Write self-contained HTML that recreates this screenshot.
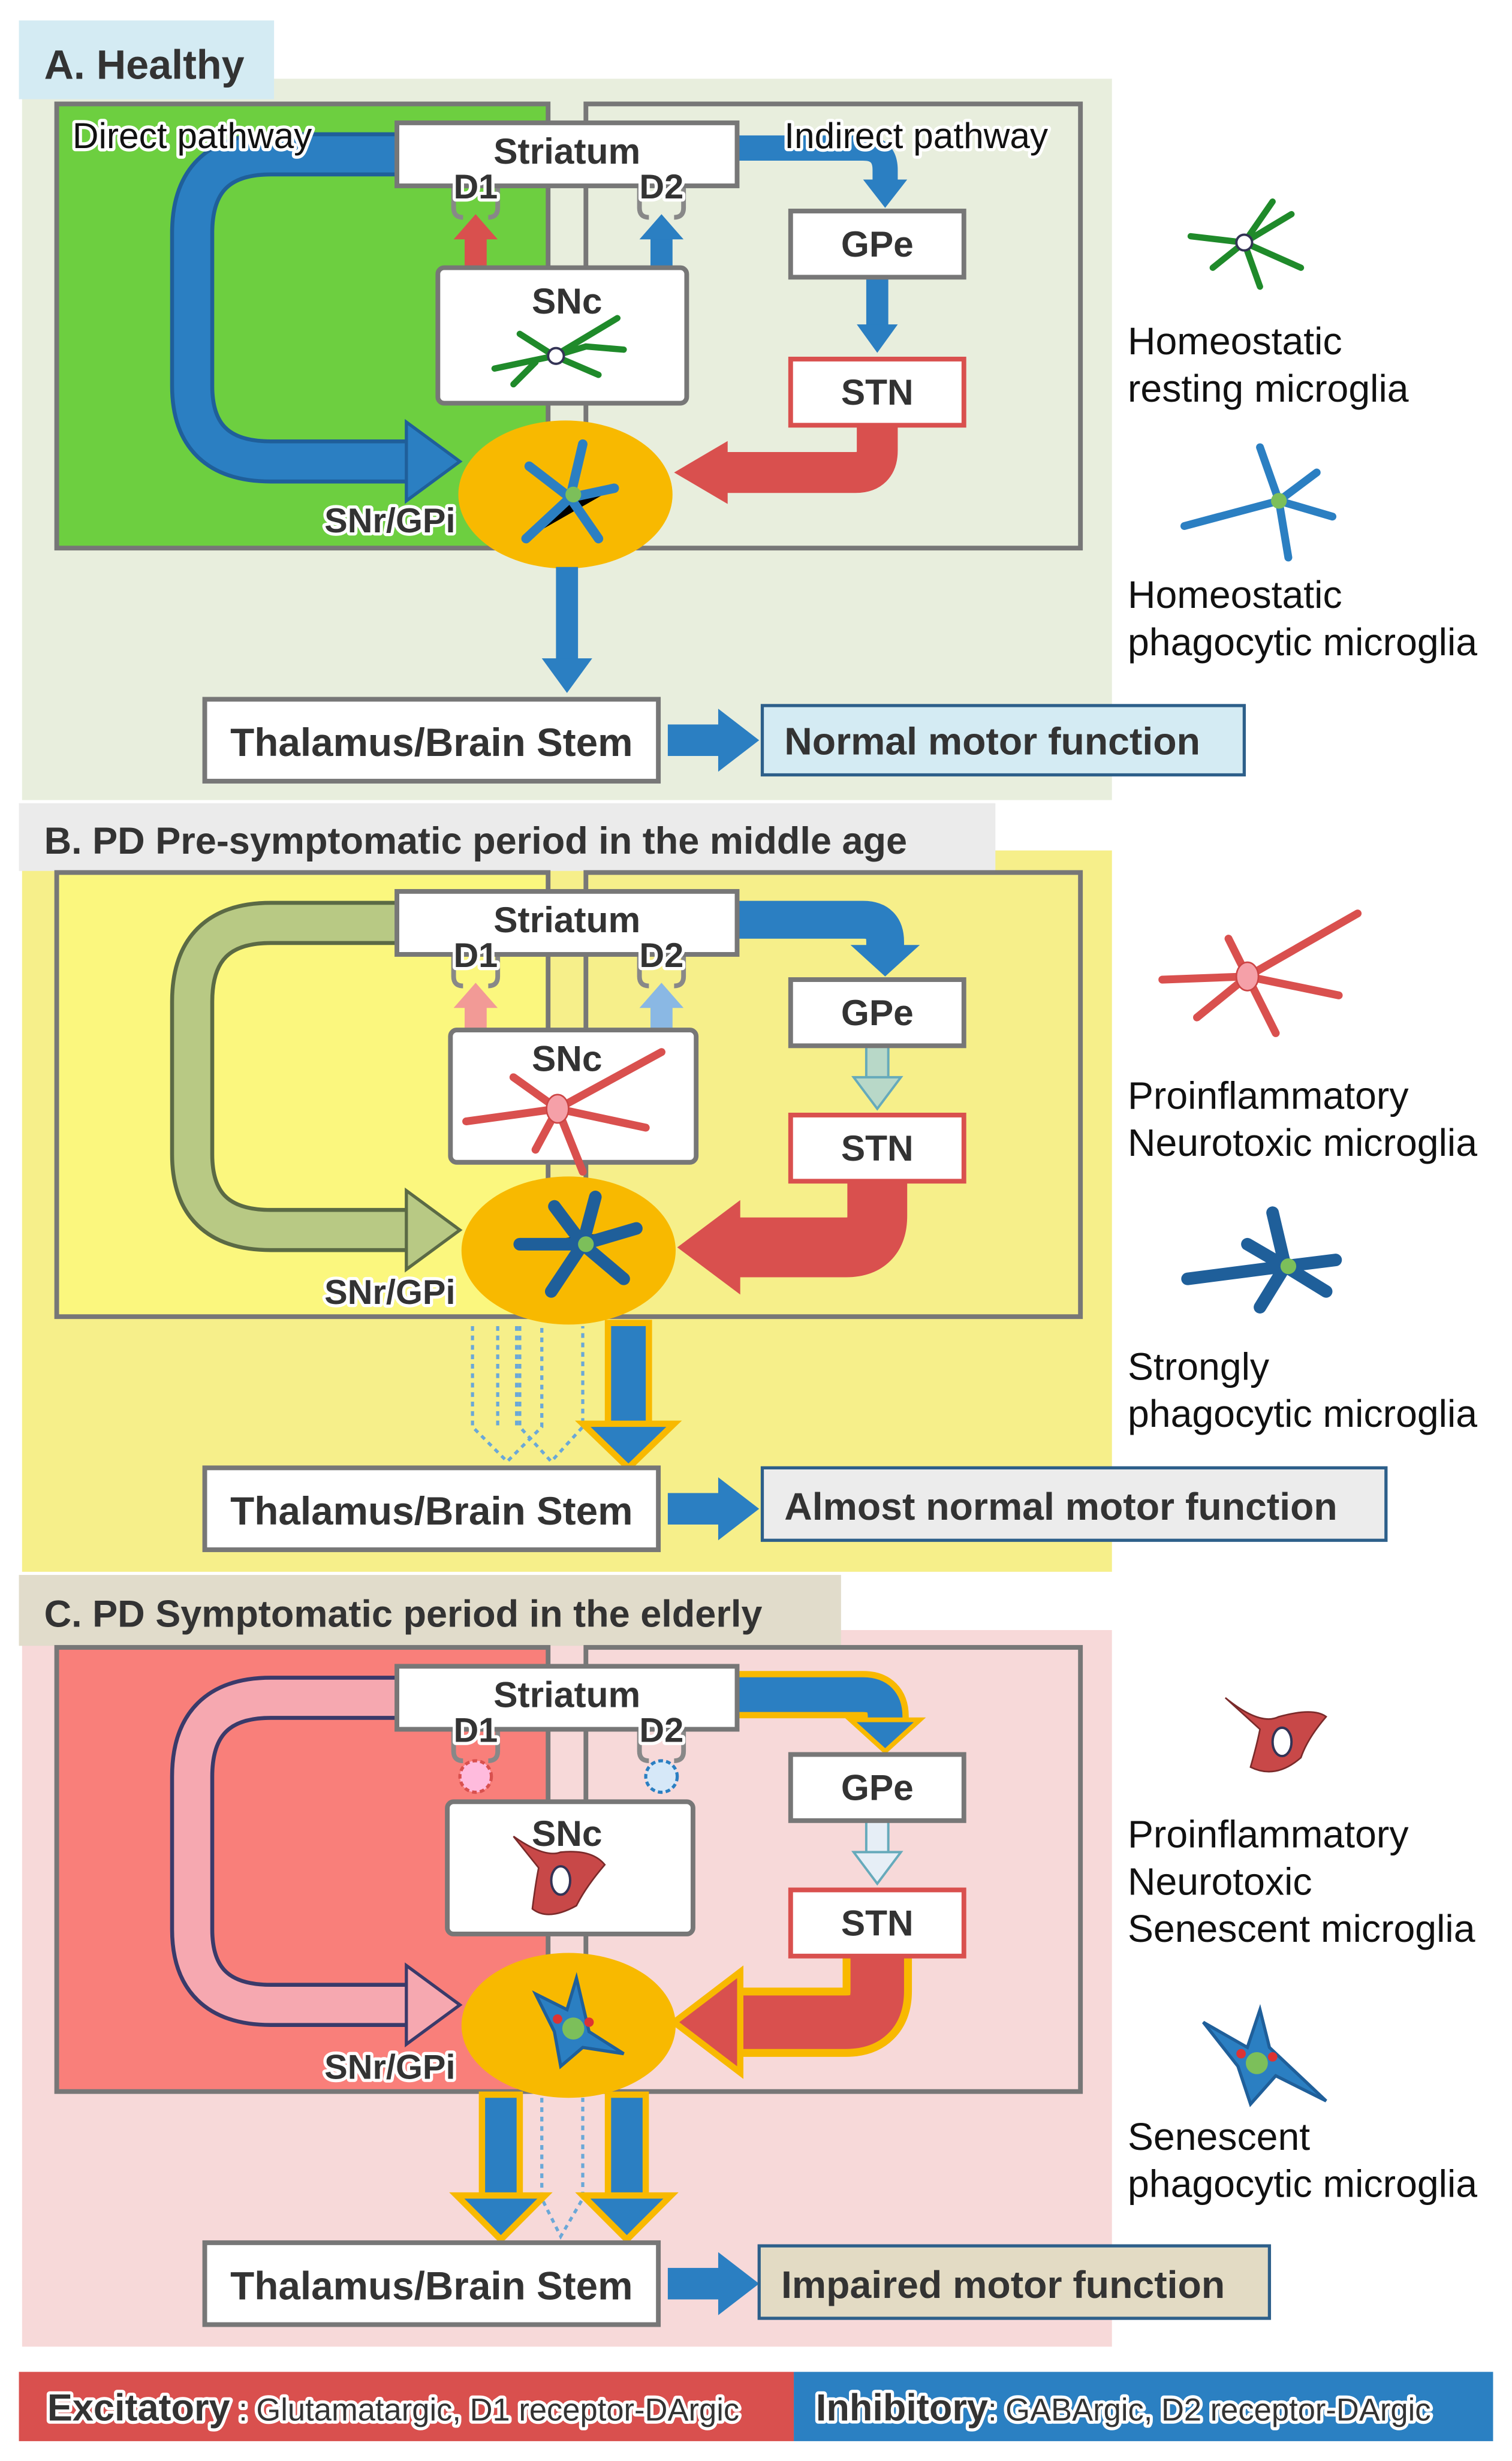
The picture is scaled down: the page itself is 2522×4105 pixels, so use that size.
<!DOCTYPE html>
<html><head><meta charset="utf-8"><style>
html,body{margin:0;padding:0;background:#fff}
svg{display:block}
text{font-family:"Liberation Sans",sans-serif}
.b{font-weight:bold;fill:#333}
.h{paint-order:stroke;stroke:#fff;stroke-width:4px;stroke-linejoin:round}
</style></head><body>
<svg width="2522" height="4105" viewBox="0 0 960 1562.6" xmlns="http://www.w3.org/2000/svg">
<rect width="960" height="1562.6" fill="#fff"/>

<!-- ================= A ================= -->
<rect x="14" y="50" width="692" height="458" fill="#e8eedd"/>
<rect x="12" y="13" width="162" height="50" fill="#d4ebf3"/>
<text x="28" y="50" class="b" font-size="26" fill="#333">A. Healthy</text>
<rect x="36" y="66" width="312" height="282" fill="#6dcf40" stroke="#777" stroke-width="3"/>
<rect x="372" y="66" width="314" height="282" fill="none" stroke="#777" stroke-width="3"/>
<path d="M252,98 H172 Q122,98 122,148 V245 Q122,293 172,293 H262" fill="none" stroke="#1f5f9a" stroke-width="28"/>
<path d="M252,98 H172 Q122,98 122,148 V245 Q122,293 172,293 H264" fill="none" stroke="#2b7fc2" stroke-width="23"/>
<polygon points="258,268 292,293 258,318" fill="#2b7fc2" stroke="#1f5f9a" stroke-width="2"/>
<path d="M468,94 H548 Q562,94 562,108 V116" fill="none" stroke="#2b7fc2" stroke-width="16"/>
<polygon points="548,114 576,114 562,132" fill="#2b7fc2"/>
<rect x="550" y="176" width="14" height="32" fill="#2b7fc2"/><polygon points="544,206 570,206 557,224" fill="#2b7fc2"/>
<path d="M557,270 V286 Q557,300 543,300 H458" fill="none" stroke="#d9504e" stroke-width="26"/>
<polygon points="462,280 462,320 428,300" fill="#d9504e"/>
<rect x="295" y="150" width="14" height="22" fill="#d9504e"/><polygon points="288,152 316,152 302,136" fill="#d9504e"/>
<rect x="413" y="150" width="14" height="22" fill="#2b7fc2"/><polygon points="406,152 434,152 420,136" fill="#2b7fc2"/>
<path d="M288,118 v14 q0,6 6,6 M316,118 v14 q0,6 -6,6" stroke="#888" stroke-width="3" fill="none"/>
<path d="M406,118 v14 q0,6 6,6 M434,118 v14 q0,6 -6,6" stroke="#888" stroke-width="3" fill="none"/>
<rect x="252" y="78" width="216" height="40" fill="#fff" stroke="#777" stroke-width="3"/>
<text x="360" y="104" class="b" font-size="23" text-anchor="middle">Striatum</text>
<text x="302" y="126" class="b h" font-size="22" text-anchor="middle" fill="#111">D1</text>
<text x="420" y="126" class="b h" font-size="22" text-anchor="middle" fill="#111">D2</text>
<rect x="278" y="170" width="158" height="86" rx="4" fill="#fff" stroke="#777" stroke-width="3"/>
<text x="360" y="199" class="b" font-size="23" text-anchor="middle">SNc</text>
<g stroke="#1f8a2a" stroke-width="4" fill="none" stroke-linecap="round"><path d="M314,234 L352,226 L392,202 M352,226 L380,238 M352,226 L330,212 M352,226 L372,220 L396,222 M340,230 L326,244"/></g>
<circle cx="353" cy="226" r="5" fill="#fff" stroke="#335" stroke-width="1.5"/>
<rect x="502" y="134" width="110" height="42" fill="#fff" stroke="#777" stroke-width="3"/>
<text x="557" y="163" class="b" font-size="23" text-anchor="middle">GPe</text>
<rect x="502" y="228" width="110" height="42" fill="#fff" stroke="#d9504e" stroke-width="3"/>
<text x="557" y="257" class="b" font-size="23" text-anchor="middle">STN</text>
<ellipse cx="359" cy="314" rx="68" ry="47" fill="#f8b900"/>
<g stroke="#2b7fc2" stroke-width="6" stroke-linecap="round"><path d="M334,342 L362,316 L390,310 M362,316 L370,282 M362,316 L380,342 M362,316 L336,296"/></g>
<circle cx="364" cy="314" r="5" fill="#7cbf5a"/>
<text x="206" y="338" class="b h" font-size="22" fill="#333">SNr/GPi</text>
<text x="46" y="94" font-size="23" class="h" fill="#111">Direct pathway</text>
<text x="498" y="94" font-size="23" class="h" fill="#111">Indirect pathway</text>
<rect x="353" y="360" width="14" height="60" fill="#2b7fc2"/><polygon points="344,418 376,418 360,440" fill="#2b7fc2"/>
<rect x="130" y="444" width="288" height="52" fill="#fff" stroke="#777" stroke-width="3"/>
<text x="274" y="480" class="b" font-size="25" text-anchor="middle">Thalamus/Brain Stem</text>
<rect x="424" y="460" width="34" height="20" fill="#2b7fc2"/><polygon points="456,450 482,470 456,490" fill="#2b7fc2"/>
<rect x="484" y="448" width="306" height="44" fill="#d4ebf3" stroke="#2d5f8a" stroke-width="2"/>
<text x="498" y="479" class="b" font-size="24.5" fill="#111">Normal motor function</text>
<g stroke="#1f8a2a" stroke-width="4" fill="none" stroke-linecap="round"><path d="M756,150 L790,154 L820,136 M790,154 L826,170 M790,154 L800,182 M790,154 L770,170 M790,154 L808,128"/></g>
<circle cx="790" cy="154" r="5" fill="#fff" stroke="#335" stroke-width="1.5"/>
<text x="716" y="225" font-size="24.5" fill="#111">Homeostatic</text>
<text x="716" y="255" font-size="24.5" fill="#111">resting microglia</text>
<g stroke="#2b7fc2" stroke-width="5" fill="none" stroke-linecap="round"><path d="M752,334 L812,318 L846,328 M812,318 L800,284 M812,318 L818,354 M812,318 L836,300"/></g>
<circle cx="812" cy="318" r="5" fill="#7cbf5a"/>
<text x="716" y="386" font-size="24.5" fill="#111">Homeostatic</text>
<text x="716" y="416" font-size="24.5" fill="#111">phagocytic microglia</text>

<!-- ================= B ================= -->
<rect x="14" y="540" width="692" height="458" fill="#f6ef8a"/>
<rect x="12" y="510" width="620" height="43" fill="#ebebeb"/>
<text x="28" y="542" class="b" font-size="24" fill="#333">B. PD Pre-symptomatic period in the middle age</text>
<rect x="36" y="554" width="312" height="282" fill="#fbf77e" stroke="#777" stroke-width="3"/>
<rect x="372" y="554" width="314" height="282" fill="none" stroke="#777" stroke-width="3"/>
<path d="M252,586 H172 Q122,586 122,636 V733 Q122,781 172,781 H262" fill="none" stroke="#5b6a45" stroke-width="28"/>
<path d="M252,586 H172 Q122,586 122,636 V733 Q122,781 172,781 H264" fill="none" stroke="#b8c984" stroke-width="23"/>
<polygon points="258,756 292,781 258,806" fill="#b8c984" stroke="#5b6a45" stroke-width="2"/>
<path d="M468,584 H548 Q562,584 562,598 V604" fill="none" stroke="#2b7fc2" stroke-width="24"/>
<polygon points="540,600 584,600 562,620" fill="#2b7fc2"/>
<rect x="550" y="664" width="14" height="22" fill="#b8d8c8" stroke="#6ab" stroke-width="1.5"/><polygon points="542,684 572,684 557,704" fill="#b8d8c8" stroke="#6ab" stroke-width="1.5"/>
<path d="M557,750 V772 Q557,792 537,792 H466" fill="none" stroke="#d9504e" stroke-width="38"/>
<polygon points="470,762 470,822 430,792" fill="#d9504e"/>
<rect x="295" y="638" width="14" height="22" fill="#f29a96"/><polygon points="288,640 316,640 302,624" fill="#f29a96"/>
<rect x="413" y="638" width="14" height="22" fill="#8ab8e4"/><polygon points="406,640 434,640 420,624" fill="#8ab8e4"/>
<path d="M288,606 v14 q0,6 6,6 M316,606 v14 q0,6 -6,6" stroke="#888" stroke-width="3" fill="none"/>
<path d="M406,606 v14 q0,6 6,6 M434,606 v14 q0,6 -6,6" stroke="#888" stroke-width="3" fill="none"/>
<rect x="252" y="566" width="216" height="40" fill="#fff" stroke="#777" stroke-width="3"/>
<text x="360" y="592" class="b" font-size="23" text-anchor="middle">Striatum</text>
<text x="302" y="614" class="b h" font-size="22" text-anchor="middle" fill="#111">D1</text>
<text x="420" y="614" class="b h" font-size="22" text-anchor="middle" fill="#111">D2</text>
<rect x="286" y="654" width="156" height="84" rx="4" fill="#fff" stroke="#777" stroke-width="3"/>
<text x="360" y="680" class="b" font-size="23" text-anchor="middle">SNc</text>
<g stroke="#d9504e" stroke-width="5" fill="none" stroke-linecap="round"><path d="M296,712 L354,704 L420,668 M354,704 L410,716 M354,704 L326,684 M354,704 L370,744 M354,704 L340,730"/></g>
<ellipse cx="354" cy="704" rx="7" ry="9" fill="#f5a0a8" stroke="#c44" stroke-width="1"/>
<rect x="502" y="622" width="110" height="42" fill="#fff" stroke="#777" stroke-width="3"/>
<text x="557" y="651" class="b" font-size="23" text-anchor="middle">GPe</text>
<rect x="502" y="708" width="110" height="42" fill="#fff" stroke="#d9504e" stroke-width="3"/>
<text x="557" y="737" class="b" font-size="23" text-anchor="middle">STN</text>
<ellipse cx="361" cy="794" rx="68" ry="47" fill="#f8b900"/>
<g stroke="#1f5f9a" stroke-width="8" stroke-linecap="round"><path d="M330,790 L370,790 L404,780 M370,790 L378,760 M370,790 L350,820 M370,790 L396,812 M370,790 L352,766"/></g>
<circle cx="372" cy="790" r="5" fill="#7cbf5a"/>
<text x="206" y="828" class="b h" font-size="22" fill="#333">SNr/GPi</text>
<g stroke="#6aa8d8" stroke-width="2" fill="none" stroke-dasharray="3,3"><path d="M300,842 V906 L322,928 L344,906 V842 M316,842 V906 M328,842 V906"/><path d="M330,842 V906 L350,928 L370,906 V842"/></g>
<rect x="386" y="840" width="26" height="66" fill="#2b7fc2" stroke="#f8b900" stroke-width="4"/>
<polygon points="370,904 428,904 399,932" fill="#2b7fc2" stroke="#f8b900" stroke-width="4"/>
<rect x="130" y="932" width="288" height="52" fill="#fff" stroke="#777" stroke-width="3"/>
<text x="274" y="968" class="b" font-size="25" text-anchor="middle">Thalamus/Brain Stem</text>
<rect x="424" y="948" width="34" height="20" fill="#2b7fc2"/><polygon points="456,938 482,958 456,978" fill="#2b7fc2"/>
<rect x="484" y="932" width="396" height="46" fill="#ececec" stroke="#2d5f8a" stroke-width="2"/>
<text x="498" y="965" class="b" font-size="24.5" fill="#111">Almost normal motor function</text>
<g stroke="#d9504e" stroke-width="5" fill="none" stroke-linecap="round"><path d="M738,622 L792,620 L862,580 M792,620 L850,632 M792,620 L780,596 M792,620 L810,656 M792,620 L760,646"/></g>
<ellipse cx="792" cy="620" rx="7" ry="9" fill="#f5a0a8" stroke="#c44" stroke-width="1"/>
<text x="716" y="704" font-size="24.5" fill="#111">Proinflammatory</text>
<text x="716" y="734" font-size="24.5" fill="#111">Neurotoxic microglia</text>
<g stroke="#1f5f9a" stroke-width="8" stroke-linecap="round"><path d="M754,812 L816,804 L848,800 M816,804 L808,770 M816,804 L800,830 M816,804 L842,820 M816,804 L792,790"/></g>
<circle cx="818" cy="804" r="5" fill="#7cbf5a"/>
<text x="716" y="876" font-size="24.5" fill="#111">Strongly</text>
<text x="716" y="906" font-size="24.5" fill="#111">phagocytic microglia</text>

<!-- ================= C ================= -->
<rect x="14" y="1035" width="692" height="455" fill="#f7d9d9"/>
<rect x="12" y="1000" width="522" height="45" fill="#e1dccb"/>
<text x="28" y="1033" class="b" font-size="24" fill="#333">C. PD Symptomatic period in the elderly</text>
<rect x="36" y="1046" width="312" height="282" fill="#f97f7a" stroke="#777" stroke-width="3"/>
<rect x="372" y="1046" width="314" height="282" fill="none" stroke="#777" stroke-width="3"/>
<path d="M252,1078 H172 Q122,1078 122,1128 V1225 Q122,1273 172,1273 H262" fill="none" stroke="#3a3a6a" stroke-width="28"/>
<path d="M252,1078 H172 Q122,1078 122,1128 V1225 Q122,1273 172,1273 H264" fill="none" stroke="#f6a8b0" stroke-width="23"/>
<polygon points="258,1248 292,1273 258,1298" fill="#f6a8b0" stroke="#3a3a6a" stroke-width="2"/>
<path d="M468,1076 H548 Q562,1076 562,1090 V1094" fill="none" stroke="#f8b900" stroke-width="30"/>
<path d="M468,1076 H548 Q562,1076 562,1090 V1096" fill="none" stroke="#2b7fc2" stroke-width="22"/>
<polygon points="540,1092 584,1092 562,1112" fill="#2b7fc2" stroke="#f8b900" stroke-width="3"/>
<rect x="550" y="1156" width="14" height="22" fill="#e6eef6" stroke="#6ab" stroke-width="1.5"/><polygon points="542,1176 572,1176 557,1196" fill="#e6eef6" stroke="#6ab" stroke-width="1.5"/>
<path d="M557,1242 V1264 Q557,1284 537,1284 H466" fill="none" stroke="#f8b900" stroke-width="44"/>
<path d="M557,1242 V1264 Q557,1284 537,1284 H466" fill="none" stroke="#d9504e" stroke-width="34"/>
<polygon points="470,1252 470,1316 428,1284" fill="#d9504e" stroke="#f8b900" stroke-width="4"/>
<circle cx="302" cy="1128" r="10" fill="#fbd" stroke="#d9504e" stroke-width="2" stroke-dasharray="3,2"/>
<circle cx="420" cy="1128" r="10" fill="#d6e8f8" stroke="#2b7fc2" stroke-width="2" stroke-dasharray="3,2"/>
<path d="M288,1098 v14 q0,6 6,6 M316,1098 v14 q0,6 -6,6" stroke="#888" stroke-width="3" fill="none"/>
<path d="M406,1098 v14 q0,6 6,6 M434,1098 v14 q0,6 -6,6" stroke="#888" stroke-width="3" fill="none"/>
<rect x="252" y="1058" width="216" height="40" fill="#fff" stroke="#777" stroke-width="3"/>
<text x="360" y="1084" class="b" font-size="23" text-anchor="middle">Striatum</text>
<text x="302" y="1106" class="b h" font-size="22" text-anchor="middle" fill="#111">D1</text>
<text x="420" y="1106" class="b h" font-size="22" text-anchor="middle" fill="#111">D2</text>
<rect x="284" y="1144" width="156" height="84" rx="4" fill="#fff" stroke="#777" stroke-width="3"/>
<text x="360" y="1172" class="b" font-size="23" text-anchor="middle">SNc</text>
<path d="M326,1166 Q346,1180 356,1176 Q376,1174 384,1184 Q372,1198 366,1210 Q348,1220 338,1212 Q340,1196 342,1186 Z" fill="#c84848" stroke="#7a2a2a" stroke-width="1"/>
<ellipse cx="356" cy="1194" rx="6" ry="9" fill="#fff" stroke="#335" stroke-width="1.5"/>
<rect x="502" y="1114" width="110" height="42" fill="#fff" stroke="#777" stroke-width="3"/>
<text x="557" y="1143" class="b" font-size="23" text-anchor="middle">GPe</text>
<rect x="502" y="1200" width="110" height="42" fill="#fff" stroke="#d9504e" stroke-width="3"/>
<text x="557" y="1229" class="b" font-size="23" text-anchor="middle">STN</text>
<ellipse cx="361" cy="1286" rx="68" ry="46" fill="#f8b900"/>
<path d="M340,1266 L360,1276 L366,1256 L374,1290 L396,1304 L370,1300 L356,1312 L352,1290 Z" fill="#2b7fc2" stroke="#1f5f9a" stroke-width="2"/>
<circle cx="364" cy="1288" r="7" fill="#7cbf5a"/><circle cx="354" cy="1282" r="3" fill="#d33"/><circle cx="374" cy="1284" r="3" fill="#d33"/>
<text x="206" y="1320" class="b h" font-size="22" fill="#333">SNr/GPi</text>
<g stroke="#6aa8d8" stroke-width="2" fill="none" stroke-dasharray="3,3"><path d="M344,1332 V1396 L356,1420 L370,1396 V1332"/></g>
<rect x="306" y="1330" width="24" height="66" fill="#2b7fc2" stroke="#f8b900" stroke-width="4"/>
<polygon points="290,1394 346,1394 318,1422" fill="#2b7fc2" stroke="#f8b900" stroke-width="4"/>
<rect x="386" y="1330" width="24" height="66" fill="#2b7fc2" stroke="#f8b900" stroke-width="4"/>
<polygon points="370,1394 426,1394 398,1422" fill="#2b7fc2" stroke="#f8b900" stroke-width="4"/>
<rect x="130" y="1424" width="288" height="52" fill="#fff" stroke="#777" stroke-width="3"/>
<text x="274" y="1460" class="b" font-size="25" text-anchor="middle">Thalamus/Brain Stem</text>
<rect x="424" y="1440" width="34" height="20" fill="#2b7fc2"/><polygon points="456,1430 482,1450 456,1470" fill="#2b7fc2"/>
<rect x="482" y="1426" width="324" height="46" fill="#e3dbc4" stroke="#2d5f8a" stroke-width="2"/>
<text x="496" y="1459" class="b" font-size="24.5" fill="#111">Impaired motor function</text>
<path d="M778,1078 Q800,1096 812,1090 Q834,1084 842,1090 Q830,1104 826,1116 Q810,1130 794,1122 Q798,1108 800,1098 Z" fill="#c84848" stroke="#7a2a2a" stroke-width="1"/>
<ellipse cx="814" cy="1106" rx="6" ry="9" fill="#fff" stroke="#335" stroke-width="1.5"/>
<text x="716" y="1173" font-size="24.5" fill="#111">Proinflammatory</text>
<text x="716" y="1203" font-size="24.5" fill="#111">Neurotoxic</text>
<text x="716" y="1233" font-size="24.5" fill="#111">Senescent microglia</text>
<path d="M764,1284 L792,1300 L800,1276 L806,1300 L842,1334 L810,1318 L794,1336 L786,1312 Z" fill="#2b7fc2" stroke="#1f5f9a" stroke-width="2"/>
<circle cx="798" cy="1310" r="7" fill="#7cbf5a"/><circle cx="788" cy="1304" r="3" fill="#d33"/><circle cx="808" cy="1306" r="3" fill="#d33"/>
<text x="716" y="1365" font-size="24.5" fill="#111">Senescent</text>
<text x="716" y="1395" font-size="24.5" fill="#111">phagocytic microglia</text>

<!-- legend -->
<rect x="12" y="1506" width="492" height="44" fill="#d9504e"/>
<rect x="504" y="1506" width="444" height="44" fill="#2b80c2"/>
<text x="30" y="1537" class="b h" font-size="24" fill="#111">Excitatory<tspan font-weight="normal" font-size="20"> : Glutamatargic, D1 receptor-DArgic</tspan></text>
<text x="518" y="1537" class="b h" font-size="24" fill="#111">Inhibitory<tspan font-weight="normal" font-size="20">: GABArgic, D2 receptor-DArgic</tspan></text>
</svg>
</body></html>
